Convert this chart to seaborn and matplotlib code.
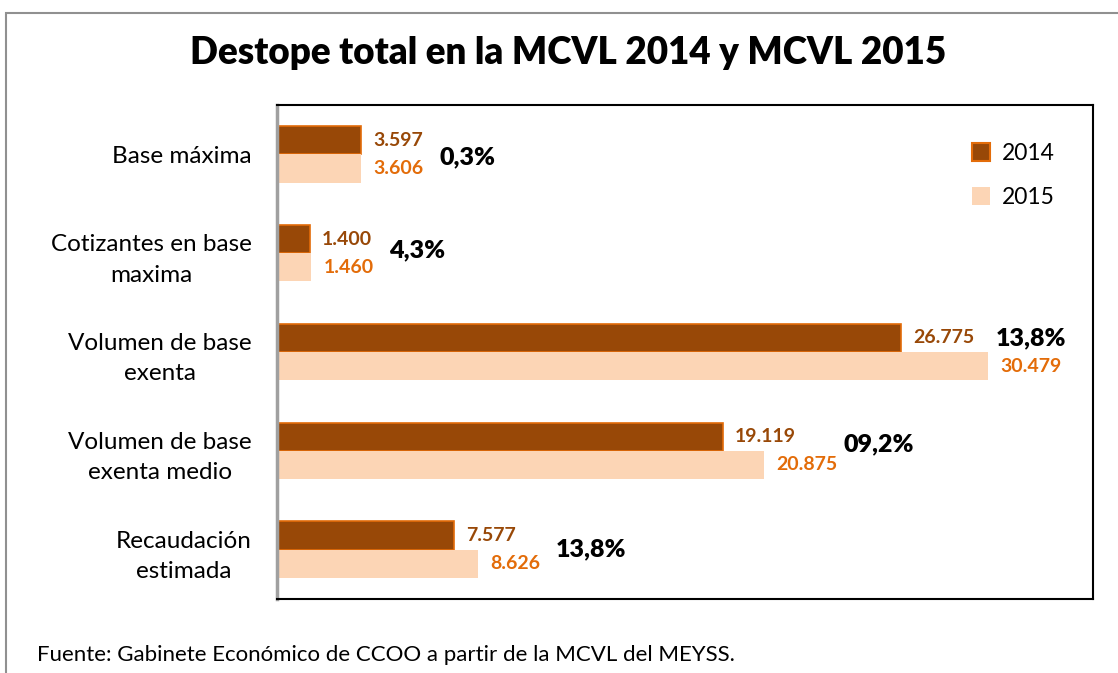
import matplotlib.pyplot as plt
import pandas as pd
import seaborn as sns
from matplotlib.patches import Patch, Rectangle
from matplotlib.transforms import offset_copy

categorias = [
    "Base máxima",
    "Cotizantes en base\nmaxima",
    "Volumen de base\nexenta",
    "Volumen de base\nexenta medio",
    "Recaudación\nestimada",
]
valores_2014 = [3597, 1400, 26775, 19119, 7577]
valores_2015 = [3606, 1460, 30479, 20875, 8626]
variacion = ["0,3%", "4,3%", "13,8%", "09,2%", "13,8%"]
anios = ["2014", "2015"]

color_2014 = "#984807"
borde_2014 = "#E36C09"
color_2015 = "#FCD5B5"
texto_2015 = "#E36C09"

df = pd.DataFrame(
    {
        "categoria": categorias * 2,
        "valor": valores_2014 + valores_2015,
        "anio": [anios[0]] * len(categorias) + [anios[1]] * len(categorias),
    }
)

sns.set_style("white")
plt.rcParams["font.family"] = ["Lato", "DejaVu Sans"]
plt.rcParams["text.color"] = "black"
plt.rcParams["ytick.labelcolor"] = "black"

fig = plt.figure(figsize=(11.18, 6.73), dpi=100)
ax = fig.add_axes([0.2478, 0.1100, 0.7298, 0.7340])

sns.barplot(
    data=df,
    y="categoria",
    x="valor",
    hue="anio",
    hue_order=anios,
    palette=[color_2014, color_2015],
    orient="h",
    width=0.57,
    gap=0,
    saturation=1,
    legend=False,
    ax=ax,
)

bars_2014, bars_2015 = ax.containers[0], ax.containers[1]
for bar in bars_2014:
    bar.set_edgecolor(borde_2014)
    bar.set_linewidth(1.2)
for bar in bars_2015:
    bar.set_linewidth(0)


def miles(v):
    return f"{v:,.0f}".replace(",", ".")


ax.bar_label(bars_2014, labels=[miles(v) for v in valores_2014], padding=9,
             color=color_2014, fontsize=14, fontweight="bold")
ax.bar_label(bars_2015, labels=[miles(v) for v in valores_2015], padding=9,
             color=texto_2015, fontsize=14, fontweight="bold")

# porcentajes de variación, colocados a mano como en el original
desplaz = [(78, 0.03), (78, -0.03), (95, -0.14), (80, -0.07), (78, 0.0)]
for i, (txt, (dx, dy)) in enumerate(zip(variacion, desplaz)):
    if i == 2:
        x = valores_2014[i]
    else:
        x = max(valores_2014[i], valores_2015[i])
    tr = offset_copy(ax.transData, fig=fig, x=dx, y=0, units="dots")
    ax.text(x, i + dy, txt, transform=tr, fontsize=18, fontweight="heavy",
            color="black", va="center", ha="left")

ax.set_xlim(0, 35000)
ax.set_ylim(4.5, -0.5)
ax.set_xlabel("")
ax.set_ylabel("")
ax.set_xticks([])
ax.tick_params(axis="y", length=0, pad=18, labelsize=17.5, labelcolor="black")
for lbl in ax.get_yticklabels():
    lbl.set_multialignment("center")
    lbl.set_linespacing(1.55)

for side in ["top", "right", "bottom"]:
    ax.spines[side].set_visible(True)
    ax.spines[side].set_color("black")
    ax.spines[side].set_linewidth(1.5)
ax.spines["left"].set_color("#A0A0A0")
ax.spines["left"].set_linewidth(2.5)

handles = [
    Patch(facecolor=color_2014, edgecolor=borde_2014, linewidth=1.5),
    Patch(facecolor=color_2015, edgecolor="none"),
]
ax.legend(handles, anios, loc="upper right", bbox_to_anchor=(0.978, 0.965),
          frameon=False, fontsize=16.5, handlelength=0.8, handleheight=0.8,
          labelspacing=1.0, handletextpad=0.5)

fig.text(0.5085, 0.921, "Destope total en la MCVL 2014 y MCVL 2015",
         ha="center", va="center", fontsize=26.5, fontweight="heavy")
fig.text(0.033, 0.027, "Fuente: Gabinete Económico de CCOO a partir de la MCVL del MEYSS.",
         ha="left", va="center", fontsize=16)

fig.patches.append(Rectangle((6 / 1118, -0.1), 1.2, 1.1 - 13 / 673,
                             transform=fig.transFigure, fill=False,
                             edgecolor="#909090", linewidth=1.5))

fig.savefig("out.png", dpi=100)
